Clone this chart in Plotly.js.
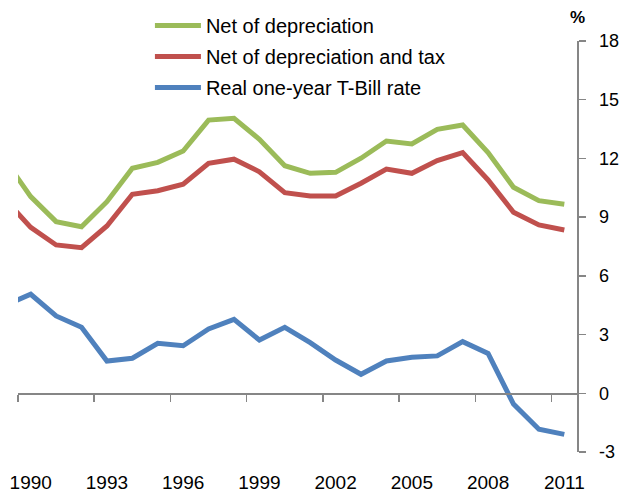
<!DOCTYPE html>
<html>
<head>
<meta charset="utf-8">
<script src="https://cdn.plot.ly/plotly-3.0.1.min.js"></script>
<style>html,body{margin:0;padding:0;background:#fff;}#chart{width:621px;height:492px;}</style>
</head>
<body>
<div id="chart"></div>
<script>
// Years (1989 is only partially visible at the left edge of the chart)
const years = [1989, 1990, 1991, 1992, 1993, 1994, 1995, 1996, 1997, 1998, 1999, 2000,
               2001, 2002, 2003, 2004, 2005, 2006, 2007, 2008, 2009, 2010, 2011];
const netOfDepreciation = [11.9, 10.05, 8.77, 8.51, 9.79, 11.50, 11.80, 12.38, 13.96, 14.05, 12.98, 11.63,
                           11.24, 11.29, 12.01, 12.89, 12.74, 13.49, 13.71, 12.30, 10.53, 9.84, 9.66];
const netOfDepreciationAndTax = [9.9, 8.48, 7.58, 7.44, 8.55, 10.17, 10.35, 10.68, 11.75, 11.96, 11.32, 10.25,
                                 10.08, 10.08, 10.73, 11.46, 11.24, 11.89, 12.30, 10.90, 9.25, 8.60, 8.34];
const realTBillRate = [4.5, 5.06, 3.95, 3.37, 1.65, 1.79, 2.55, 2.43, 3.29, 3.78, 2.72, 3.37,
                       2.59, 1.70, 0.97, 1.65, 1.84, 1.91, 2.64, 2.04, -0.55, -1.84, -2.10];
const seriesNames = ["Net of depreciation", "Net of depreciation and tax", "Real one-year T-Bill rate"];
const labelYears = [1990, 1993, 1996, 1999, 2002, 2005, 2008, 2011];
const tickBoundaries = [1989.5, 1992.5, 1995.5, 1998.5, 2001.5, 2004.5, 2007.5, 2010.5];
const yTicks = [-3, 0, 3, 6, 9, 12, 15, 18];

const xRange = [1989.5, 2011.5];
const yRange = [-3, 18];
const FONT = "Liberation Sans, Arial, sans-serif";
const AXIS = "#868686";

// layout geometry: plot area spans y = 41..452 px; legend sits in the paper area above it
const W = 621, H = 492, MT = 6, MB = 40, PLOT_H = H - MT - MB;
const yTop = 411 / PLOT_H;

const colors = ["#9BBB59", "#C0504D", "#4F81BD"];
const data = [netOfDepreciation, netOfDepreciationAndTax, realTBillRate].map((v, i) => ({
  type: "scatter", mode: "lines", x: years, y: v, name: seriesNames[i],
  legendgroup: "g" + i,
  line: {color: colors[i], width: 5}, xaxis: "x", yaxis: "y", hoverinfo: "skip"
}));
// invisible copy so that the zero-line axis (x2) is drawn
data.push({type: "scatter", mode: "lines", x: years, y: realTBillRate, xaxis: "x2", yaxis: "y",
           showlegend: false, opacity: 0, line: {width: 0}, hoverinfo: "skip"});

const layout = {
  width: W, height: H,
  margin: {l: 18, r: 44, t: MT, b: MB, pad: 0},
  paper_bgcolor: "#fff", plot_bgcolor: "#fff",
  font: {family: FONT, color: "#000", size: 18},
  showlegend: true,
  legend: {x: 0.236, y: 1, xanchor: "left", yanchor: "top", bgcolor: "rgba(0,0,0,0)",
           font: {family: FONT, size: 20, color: "#000"}, itemwidth: 46, traceorder: "grouped",
           tracegroupgap: 2},
  xaxis: {range: xRange, tickmode: "array", tickvals: labelYears, ticktext: labelYears.map(String),
          ticks: "", showline: false, showgrid: false, zeroline: false,
          tickfont: {family: FONT, size: 19, color: "#000"}, ticklabelstandoff: 17, fixedrange: true},
  xaxis2: {overlaying: "x", anchor: "free", position: yTop * (0 - yRange[0]) / (yRange[1] - yRange[0]),
           range: xRange, tickmode: "array", tickvals: tickBoundaries, showticklabels: false,
           ticks: "outside", ticklen: 7, tickwidth: 1.5, tickcolor: AXIS,
           showline: true, linecolor: AXIS, linewidth: 1.5, showgrid: false, zeroline: false, fixedrange: true},
  yaxis: {domain: [0, yTop], range: yRange, side: "right", tickmode: "array", tickvals: yTicks,
          ticktext: yTicks.map(String),
          ticks: "outside", ticklen: 7, tickwidth: 1.5, tickcolor: AXIS,
          showline: true, linecolor: AXIS, linewidth: 1.5, showgrid: false, zeroline: false,
          tickfont: {family: FONT, size: 18, color: "#000"}, ticklabelstandoff: 10, fixedrange: true},
  annotations: [{text: "<b>%</b>", xref: "paper", yref: "paper", x: 1.0, y: (H - MB - 18) / PLOT_H,
                 xanchor: "center", yanchor: "middle", showarrow: false,
                 font: {family: FONT, size: 17, color: "#000"}}]
};

Plotly.newPlot("chart", data, layout, {displayModeBar: false, staticPlot: true});
</script>
</body>
</html>
